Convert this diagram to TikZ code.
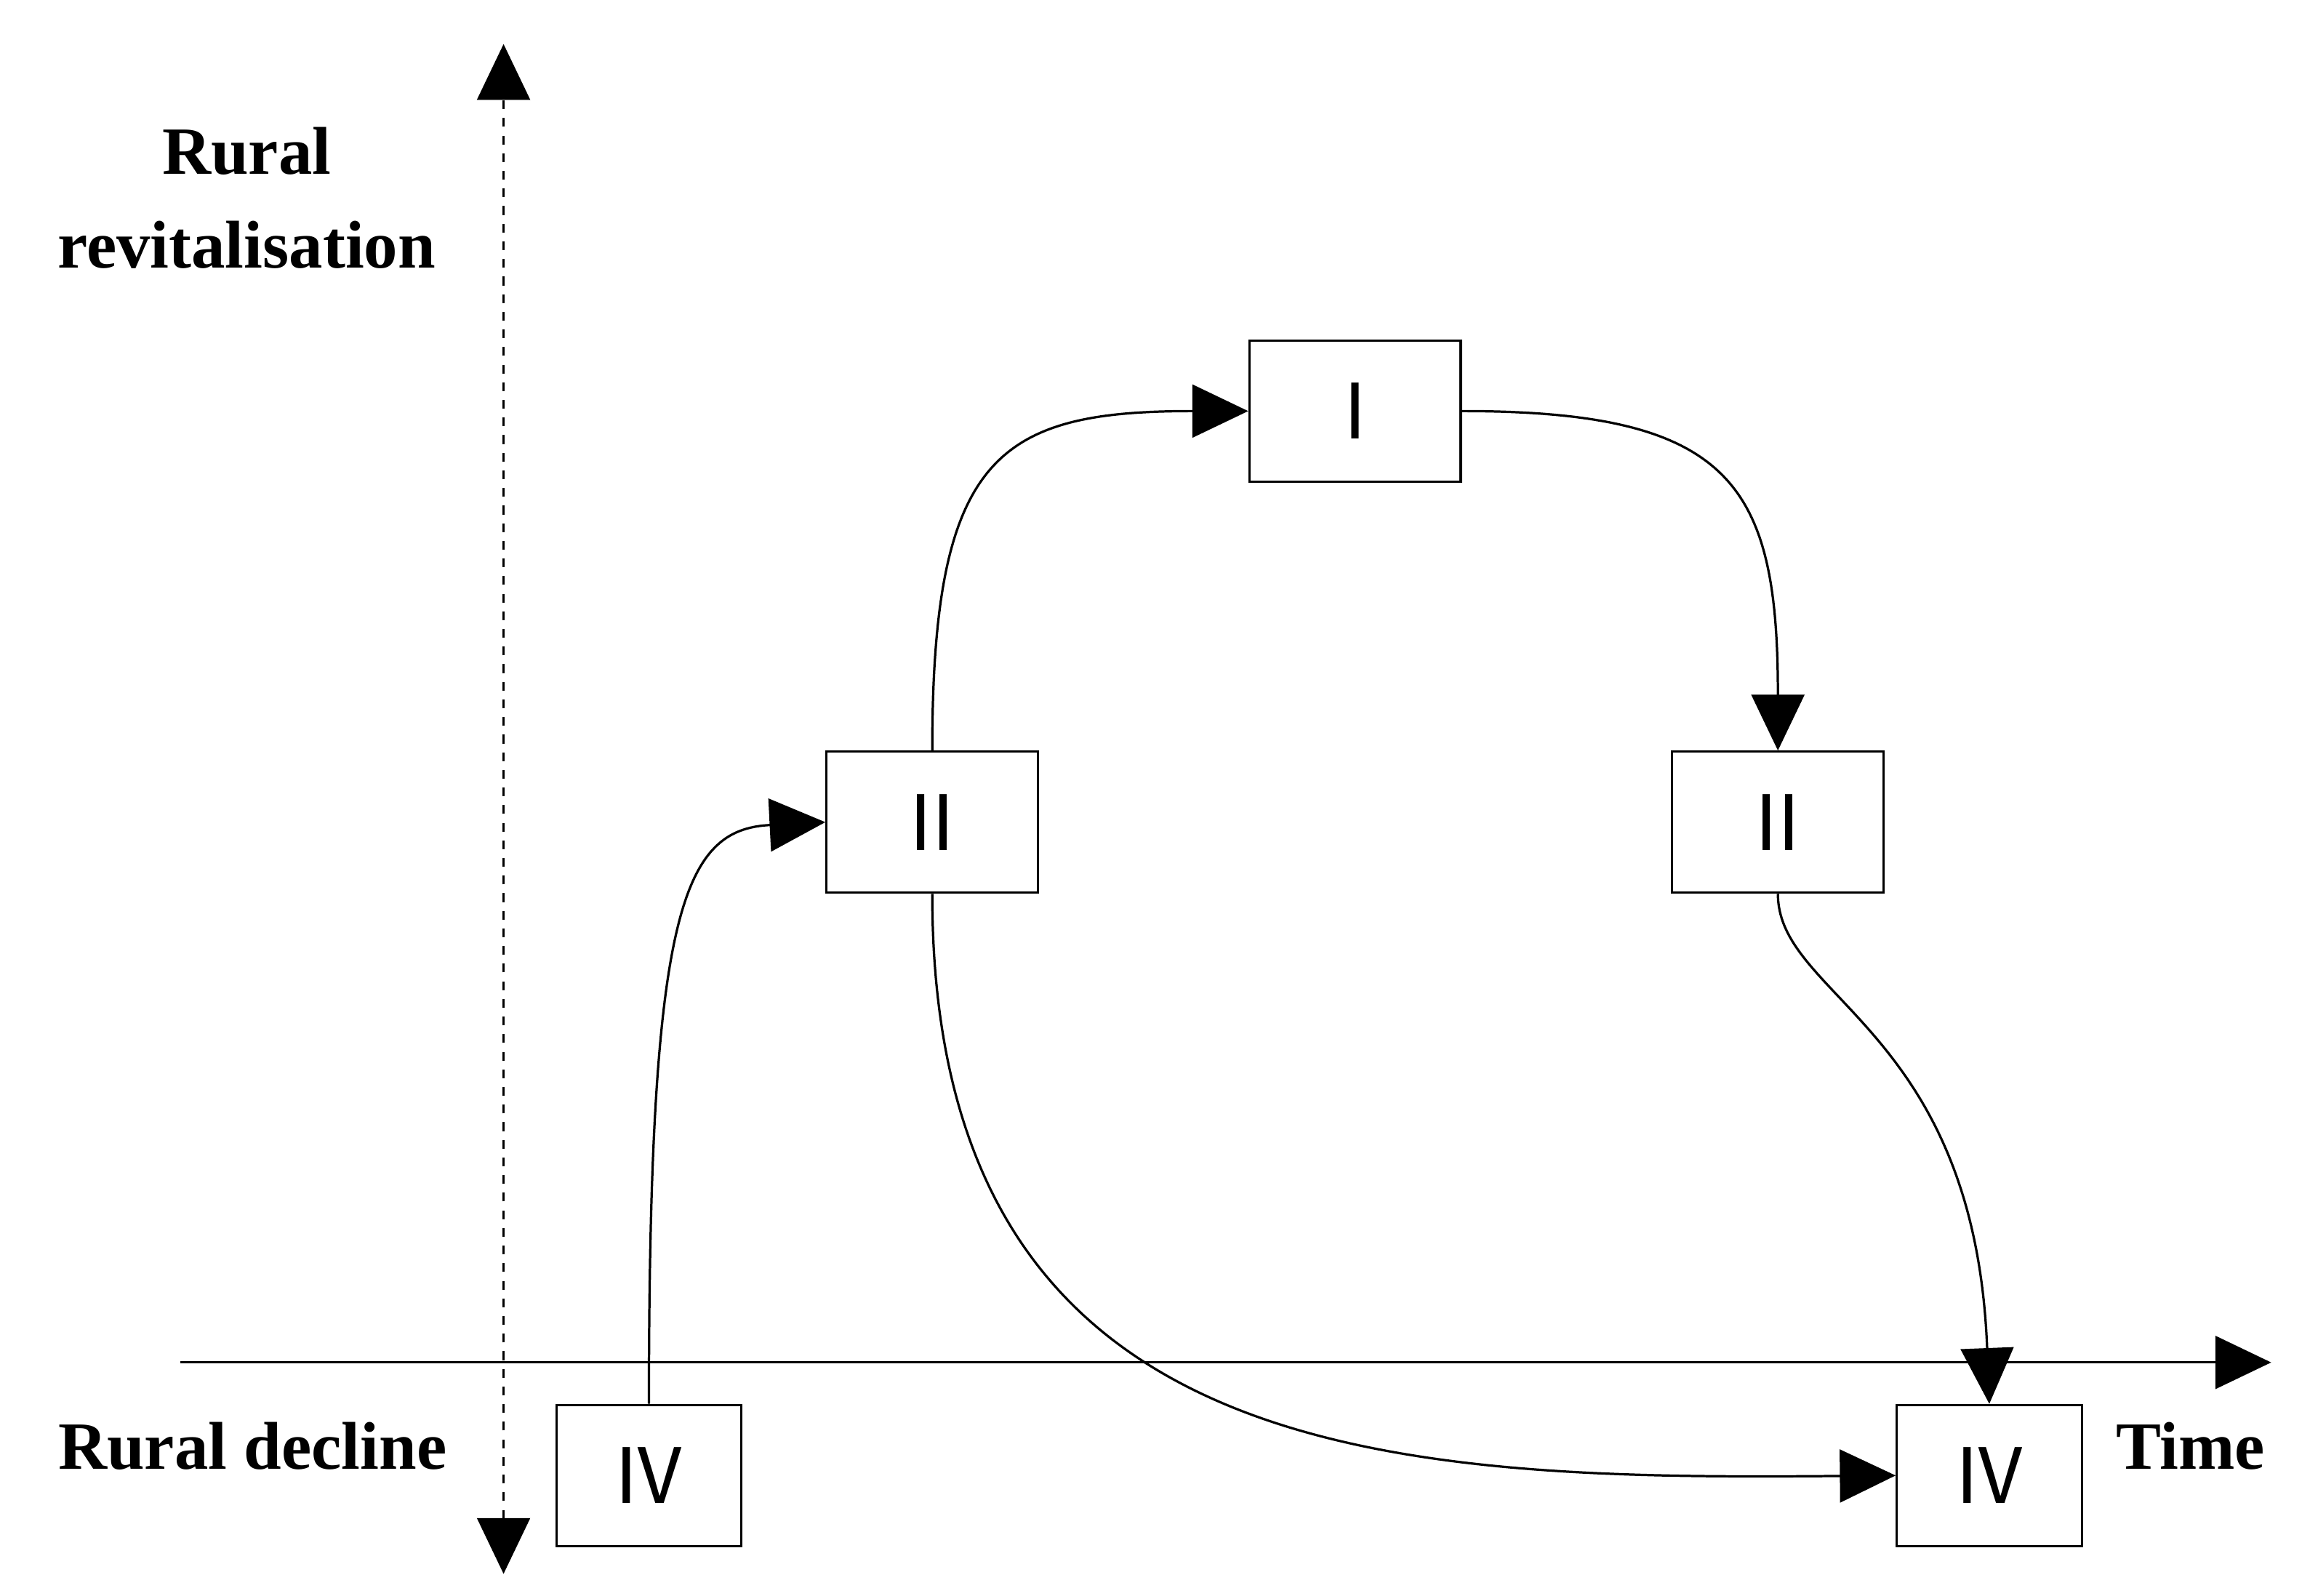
\documentclass[tikz,border=0pt]{standalone}
\usepackage{fontspec}
\setmainfont{Liberation Serif}
\newfontfamily\numfont{Noto Sans CJK SC}
\usetikzlibrary{arrows.meta}
\begin{document}
\begin{tikzpicture}[x=0.5pt,y=-0.5pt,
  box/.style={draw,line width=0.8pt,minimum width=72pt,minimum height=48pt,inner sep=0pt,font=\numfont\fontsize{26}{30}\selectfont},
  lbl/.style={font=\bfseries\fontsize{23}{32}\selectfont,align=center},
  tip/.style={-{Triangle[length=19pt,width=18pt]}},
  con/.style={line width=0.8pt,tip}]
\useasboundingbox (0,0) rectangle (1568,1087);
\coordinate (ytop) at (343,30);
\coordinate (ybot) at (343,1072);
\coordinate (xl) at (123,928);
\coordinate (xr) at (1547,928);
\draw[line width=0.8pt,dashed,{Triangle[length=19pt,width=18pt]}-{Triangle[length=19pt,width=18pt]}] (ybot) -- (ytop);
\draw[line width=0.8pt,tip] (xl) -- (xr);
\node[box] (I) at (923,280) {Ⅰ};
\node[box] (IIa) at (635,560) {Ⅱ};
\node[box] (IIb) at (1211,560) {Ⅱ};
\node[box,minimum width=63pt] (IVa) at (442,1005) {Ⅳ};
\node[box,minimum width=63pt] (IVb) at (1355,1005) {Ⅳ};
\node[lbl] (rr) at (168,135) {Rural\\revitalisation};
\node[lbl] (rd) at (172,985) {Rural decline};
\node[lbl] (tm) at (1492,985) {Time};
\draw[con] (IVa.north) .. controls (442,620) and (465,565) .. (IIa.west);
\draw[con] (IIa.north) .. controls (635,310) and (680,280) .. (I.west);
\draw[con] (I.east) .. controls (1180,280) and (1211,330) .. (IIb.north);
\draw[con] (IIa.south) .. controls (635,1000) and (950,1008) .. (IVb.west);
\draw[con] (IIb.south) .. controls (1211,680) and (1345,700) .. (IVb.north);
\end{tikzpicture}
\end{document}
